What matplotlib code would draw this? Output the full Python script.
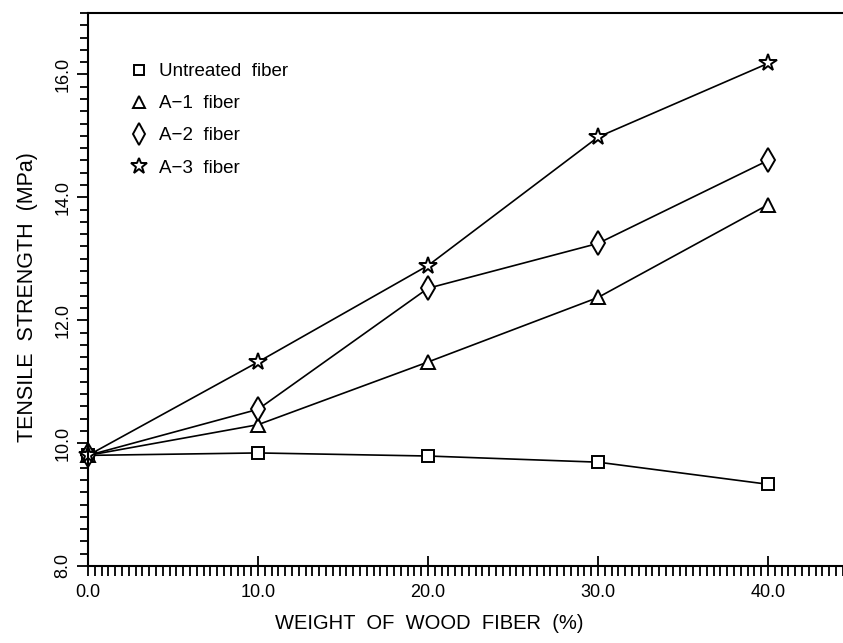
import matplotlib
matplotlib.use("Agg")
import matplotlib.pyplot as plt
from matplotlib.ticker import MultipleLocator

plt.rcParams['font.family'] = ['Liberation Sans', 'DejaVu Sans']

weight = [0, 10, 20, 30, 40]
untreated = [9.80, 9.84, 9.79, 9.69, 9.33]
a1 = [9.80, 10.30, 11.32, 12.37, 13.88]
a2 = [9.80, 10.55, 12.52, 13.25, 14.60]
a3 = [9.80, 11.32, 12.89, 14.98, 16.18]
labels = ["Untreated  fiber", "A\u22121  fiber", "A\u22122  fiber", "A\u22123  fiber"]
xticks = [0, 10, 20, 30, 40]
xticklabels = ["0.0", "10.0", "20.0", "30.0", "40.0"]
yticks = [8, 10, 12, 14, 16]
yticklabels = ["8.0", "10.0", "12.0", "14.0", "16.0"]

fig = plt.figure(figsize=(8.43, 6.43), dpi=100)
ax = fig.add_axes([88/843, 1 - 566/643, 1 - 88/843, (566 - 13)/643])

series = [untreated, a1, a2, a3]
markers = ['s', '^', 'd', '*']
msizes = [8.5, 9.5, 12, 13]
for vals, m, ms, lab in zip(series, markers, msizes, labels):
    ax.plot(weight, vals, color='black', lw=1.2, marker=m, ms=ms,
            mfc='white', mec='black', mew=1.4, label=lab, clip_on=False)

ax.set_xlim(0, 755/17)
ax.set_ylim(8, 17)
ax.set_xticks(xticks)
ax.set_xticklabels(xticklabels)
ax.set_yticks(yticks)
ax.set_yticklabels(yticklabels, rotation=90, va='center')
ax.xaxis.set_minor_locator(MultipleLocator(0.4))
ax.yaxis.set_minor_locator(MultipleLocator(0.2))
ax.tick_params(axis='x', which='major', direction='inout', length=14, width=1.3,
               labelsize=13, pad=6)
ax.tick_params(axis='x', which='minor', direction='out', length=7, width=1.3)
ax.tick_params(axis='y', which='major', direction='out', length=8, width=1.3,
               labelsize=13, pad=4)
ax.tick_params(axis='y', which='minor', direction='out', length=6, width=1.3)
for s in ['left', 'bottom', 'top']:
    ax.spines[s].set_linewidth(1.5)
ax.spines['right'].set_visible(False)

ax.set_xlabel("WEIGHT  OF  WOOD  FIBER  (%)", fontsize=14.5)
ax.xaxis.set_label_coords((429 - 88)/755, -(614 - 566)/553)
ax.set_ylabel("TENSILE  STRENGTH  (MPa)", fontsize=15.5)
ax.yaxis.set_label_coords(-(88 - 38)/755, (566 - 297)/553)

leg = ax.legend(loc='upper left', bbox_to_anchor=(0.045, 0.94), frameon=False,
                fontsize=13.5, handlelength=0, handletextpad=1.1, labelspacing=0.8,
                markerscale=0.9)
for h in leg.legend_handles:
    h.set_linestyle('none')

fig.savefig("out.png", dpi=100)
